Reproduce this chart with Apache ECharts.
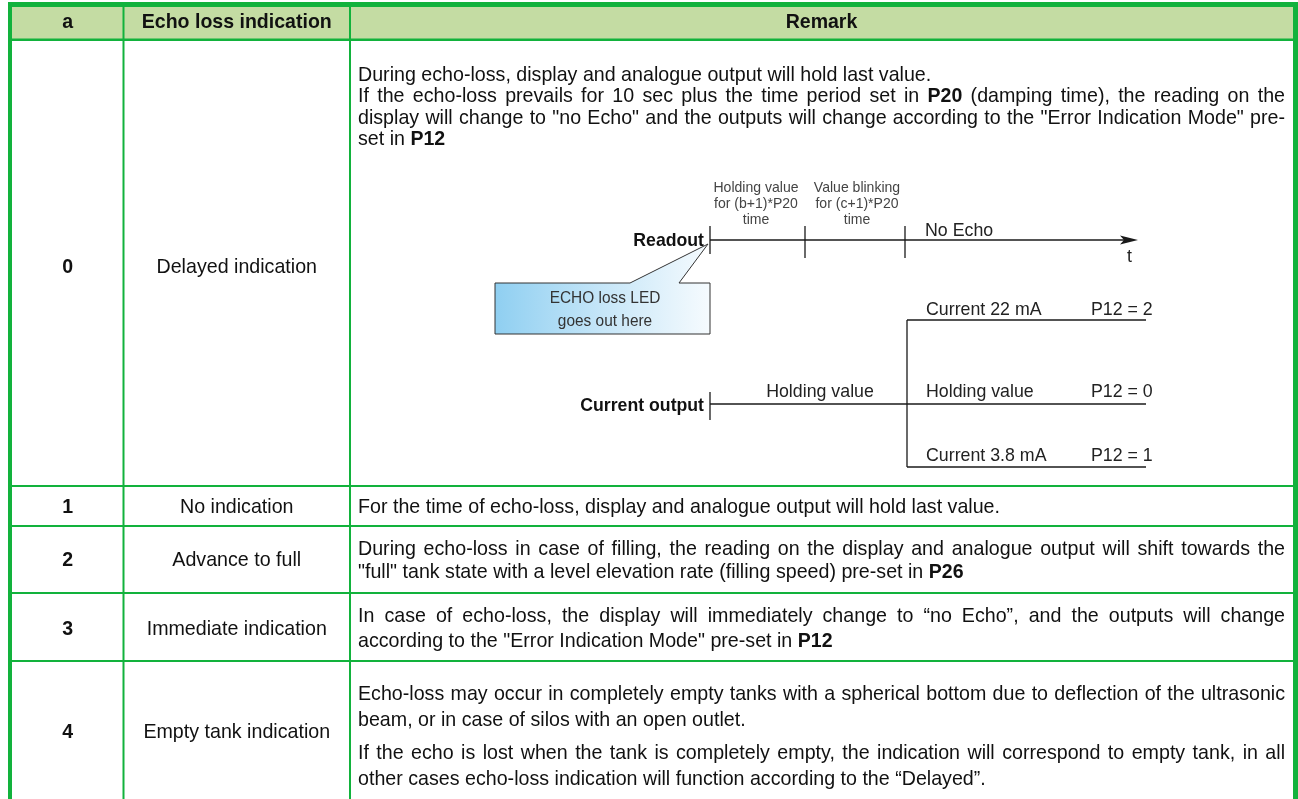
<!DOCTYPE html>
<html><head><meta charset="utf-8">
<script src="https://cdn.jsdelivr.net/npm/echarts@6/dist/echarts.min.js"></script>
<style>html,body{margin:0;padding:0;background:#fff}#c{width:1298px;height:799px}</style>
</head><body><div id="c"></div>
<script>
// ---------- content ----------
const headers = ['a', 'Echo loss indication', 'Remark'];
const rowIds = ['0', '1', '2', '3', '4'];
const rowNames = ['Delayed indication', 'No indication', 'Advance to full', 'Immediate indication', 'Empty tank indication'];
// words starting with * are bold
const remark0 = [
  'During echo-loss, display and analogue output will hold last value.',
  'If the echo-loss prevails for 10 sec plus the time period set in *P20 (damping time), the reading on the',
  'display will change to "no Echo" and the outputs will change according to the "Error Indication Mode" pre-',
  'set in *P12'
];
const remark1 = ['For the time of echo-loss, display and analogue output will hold last value.'];
const remark2 = [
  'During echo-loss in case of filling, the reading on the display and analogue output will shift towards the',
  '"full" tank state with a level elevation rate (filling speed) pre-set in *P26'
];
const remark3 = [
  'In case of echo-loss, the display will immediately change to \u201cno Echo\u201d, and the outputs will change',
  'according to the "Error Indication Mode" pre-set in *P12'
];
const remark4 = [
  'Echo-loss may occur in completely empty tanks with a spherical bottom due to deflection of the ultrasonic',
  'beam, or in case of silos with an open outlet.',
  'If the echo is lost when the tank is completely empty, the indication will correspond to empty tank, in all',
  'other cases echo-loss indication will function according to the \u201cDelayed\u201d.'
];
const remarks = [remark0, remark1, remark2, remark3, remark4];
const justified = [[false, true, true, false], [false], [true, false], [true, false], [true, false, true, false]];
// diagram texts
const readoutLabel = 'Readout';
const currentLabel = 'Current output';
const phase1 = ['Holding value', 'for (b+1)*P20', 'time'];
const phase2 = ['Value blinking', 'for (c+1)*P20', 'time'];
const noEchoLabel = 'No Echo';
const timeLabel = 't';
const calloutText = ['ECHO loss LED', 'goes out here'];
const holdingLabel = 'Holding value';
const branchLabels = ['Current 22 mA', 'Holding value', 'Current 3.8 mA'];
const branchModes = ['P12 = 2', 'P12 = 0', 'P12 = 1'];

// ---------- layout ----------
const L = {
  green: '#12B23C', headFill: '#C4DCA3',
  colX: [12, 123.5, 350, 1293],
  rowLines: [39.5, 486, 526, 593, 661],
  rowCenters: [267, 507, 560, 629, 732],
  lineY: [[75, 96, 118, 139], [507], [549, 572], [616, 641], [694, 720, 753, 779]],
  textX0: 358, textX1: 1285, body: 21
};
const FONT = '"Liberation Sans", Arial, sans-serif';
const ctx = document.createElement('canvas').getContext('2d');
function fontStr(size, bold) { return (bold ? 'bold ' : '') + size + 'px ' + FONT; }
function measure(t, size, bold) { ctx.font = fontStr(size, bold); return ctx.measureText(t).width; }
const sN = 642 / measure(remark1[0], L.body, false);
const sB = 190 / measure(headers[1], L.body, true);

function T(str, x, y, o) {
  o = o || {};
  const size = o.size || L.body, bold = !!o.bold, al = o.align || 'left';
  return {
    type: 'text', x: x, y: y, scaleX: bold ? sB : sN, scaleY: 1, silent: true, z: 10,
    style: { text: str, x: 0, y: 0, font: fontStr(size, bold), fill: o.color || '#111',
      textAlign: al, align: al, textVerticalAlign: 'middle', verticalAlign: 'middle' }
  };
}
function lineEls(line, x0, x1, y, justify) {
  const words = line.split(' ').map(w => ({ t: w.replace(/^\*/, ''), b: w[0] === '*' }));
  const ws = words.map(w => measure(w.t, L.body, w.b) * (w.b ? sB : sN));
  const total = ws.reduce((a, b) => a + b, 0);
  const space = measure(' ', L.body, false) * sN;
  const gap = justify && words.length > 1 ? (x1 - x0 - total) / (words.length - 1) : space;
  let x = x0;
  return words.map((w, i) => { const e = T(w.t, x, y, { bold: w.b }); x += ws[i] + gap; return e; });
}
function R(x, y, w, h, fill) { return { type: 'rect', silent: true, z: 5, shape: { x: x, y: y, width: w, height: h }, style: { fill: fill } }; }
function Ln(x1, y1, x2, y2, w) { return { type: 'line', silent: true, z: 8, shape: { x1: x1, y1: y1, x2: x2, y2: y2 }, style: { stroke: '#1a1a1a', lineWidth: w || 1.3 } }; }

const els = [];
els.push(R(12, 7, 1281, 32, L.headFill));
els.push(R(8, 2, 1290, 5, L.green));
els.push(R(8, 2, 4, 797, L.green));
els.push(R(1293, 2, 5, 797, L.green));
els.push(R(122.5, 2, 2, 797, L.green));
els.push(R(349, 2, 2, 797, L.green));
L.rowLines.forEach((y, i) => els.push(R(8, y - 1, 1290, i === 0 ? 2.5 : 2, L.green)));
const hc = [(L.colX[0] + L.colX[1]) / 2, (L.colX[1] + L.colX[2]) / 2, (L.colX[2] + L.colX[3]) / 2];
headers.forEach((h, i) => els.push(T(h, hc[i], 22, { bold: true, align: 'center' })));
rowIds.forEach((id, i) => {
  els.push(T(id, hc[0], L.rowCenters[i], { bold: true, align: 'center' }));
  els.push(T(rowNames[i], hc[1], L.rowCenters[i], { align: 'center' }));
  remarks[i].forEach((ln, j) => lineEls(ln, L.textX0, L.textX1, L.lineY[i][j], justified[i][j]).forEach(e => els.push(e)));
});

// ---------- diagram ----------
const DC = '#222';
els.push(Ln(710, 240, 1124, 240));
els.push({ type: 'polygon', silent: true, z: 8, shape: { points: [[1120, 235.5], [1138, 240], [1120, 244.5], [1124, 240]] }, style: { fill: '#1a1a1a' } });
els.push(Ln(710, 226, 710, 254));
els.push(Ln(805, 226, 805, 258));
els.push(Ln(905, 226, 905, 258));
els.push(T(readoutLabel, 704, 241, { bold: true, size: 19, align: 'right' }));
phase1.forEach((t, i) => els.push(T(t, 756, 188 + i * 16, { size: 15, align: 'center', color: '#444' })));
phase2.forEach((t, i) => els.push(T(t, 857, 188 + i * 16, { size: 15, align: 'center', color: '#444' })));
els.push(T(noEchoLabel, 925, 231, { size: 19, color: DC }));
els.push(T(timeLabel, 1127, 257, { size: 19, color: DC }));
els.push({
  type: 'polygon', silent: true, z: 7,
  shape: { points: [[495, 283], [630, 283], [708, 244], [679, 283], [710, 283], [710, 334], [495, 334]] },
  style: { fill: new echarts.graphic.LinearGradient(0, 0, 1, 0, [{ offset: 0, color: '#8fcff1' }, { offset: 0.5, color: '#c6e6f8' }, { offset: 1, color: '#f6fbfe' }]), stroke: '#333', lineWidth: 1 }
});
calloutText.forEach((t, i) => els.push(T(t, 605, 298 + i * 23, { size: 16.5, align: 'center', color: '#333' })));
els.push(Ln(710, 392, 710, 420));
els.push(Ln(710, 404, 1146, 404));
els.push(Ln(907, 320, 907, 467));
els.push(Ln(907, 320, 1146, 320));
els.push(Ln(907, 467, 1146, 467));
els.push(T(currentLabel, 704, 406, { bold: true, size: 19, align: 'right' }));
els.push(T(holdingLabel, 820, 392, { size: 19, align: 'center', color: DC }));
const by = [310, 392, 456];
branchLabels.forEach((t, i) => els.push(T(t, 926, by[i], { size: 19, color: DC })));
branchModes.forEach((t, i) => els.push(T(t, 1091, by[i], { size: 19, color: DC })));

const chart = echarts.init(document.getElementById('c'));
chart.setOption({ animation: false, graphic: { elements: els } });
</script>
</body></html>
